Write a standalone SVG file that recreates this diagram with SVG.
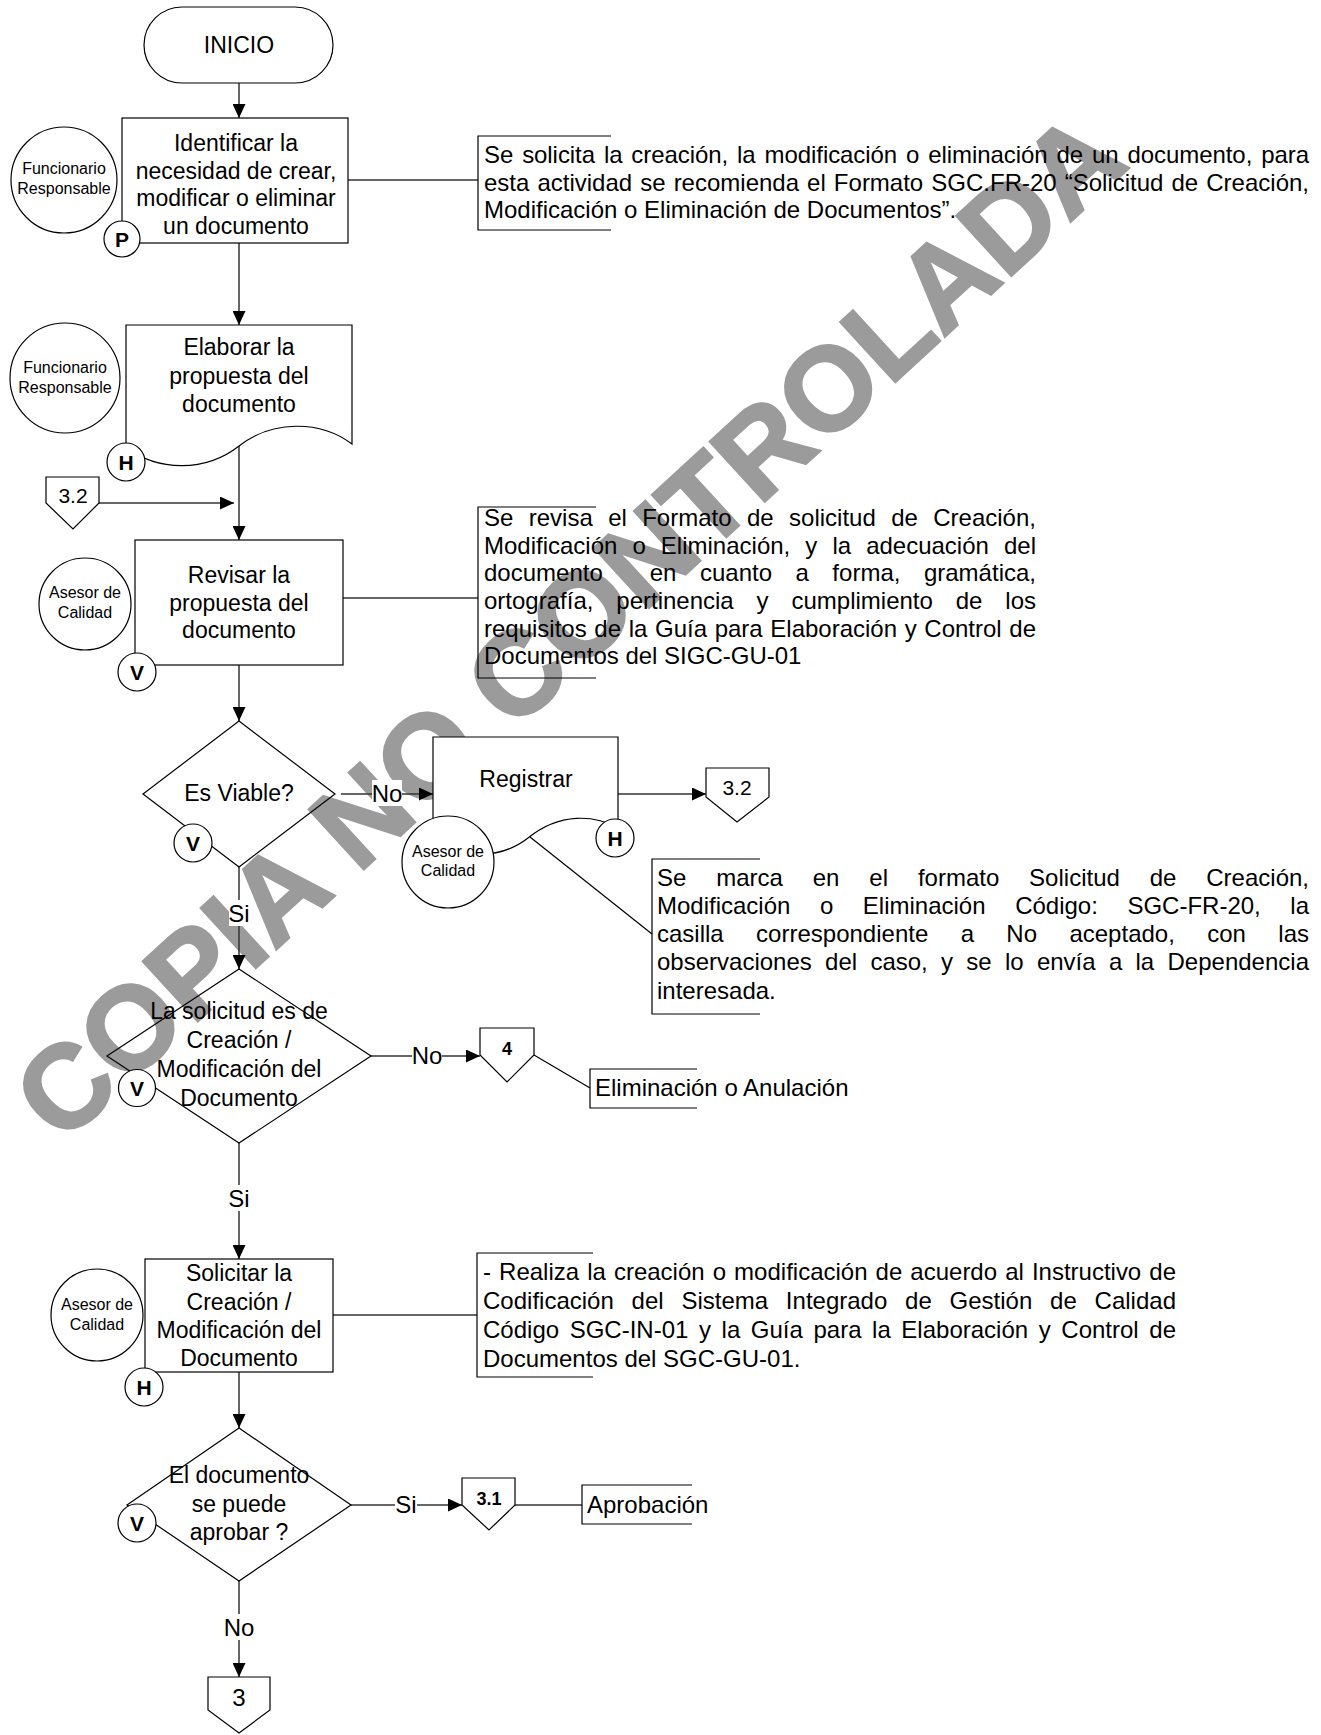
<svg xmlns="http://www.w3.org/2000/svg" width="1321" height="1735" viewBox="0 0 1321 1735">
<defs>
<marker id="ah" markerWidth="14" markerHeight="13" refX="14" refY="6.5" orient="auto" markerUnits="userSpaceOnUse"><path d="M0,0 L14,6.5 L0,13 z" fill="#000"/></marker>
<style>
.s{fill:#fff;stroke:#000;stroke-width:1.2}
.d{fill:none;stroke:#000;stroke-width:1.2}
.c{fill:none;stroke:#333;stroke-width:1.5}
.br{fill:none;stroke:#000;stroke-width:1.2}
text{font-family:"Liberation Sans",Arial,sans-serif;fill:#000}
.t{font-size:23px;text-anchor:middle}
.n{font-size:24px}
.sm{font-size:16px;text-anchor:middle}
.b{font-size:21px;font-weight:bold;text-anchor:middle}
.bs{font-size:18px;font-weight:bold;text-anchor:middle}
.lb{fill:#fff;stroke:none}
.wm{font-size:118px;font-weight:bold;fill:#9b9b9b;stroke:#9b9b9b;stroke-width:2.5;text-anchor:middle}
</style>
</defs>
<rect width="1321" height="1735" fill="#fff"/>
<text class="wm" x="0" y="42" transform="translate(568,625) rotate(-42.5)">COPIA NO CONTROLADA</text>

<g id="connectors">
<line class="c" x1="239" y1="83" x2="239" y2="118" marker-end="url(#ah)"/>
<line class="c" x1="348" y1="180" x2="478" y2="180"/>
<line class="c" x1="239" y1="243" x2="239" y2="325" marker-end="url(#ah)"/>
<line class="c" x1="99" y1="503" x2="234" y2="503" marker-end="url(#ah)"/>
<line class="c" x1="239" y1="446" x2="239" y2="540" marker-end="url(#ah)"/>
<line class="c" x1="343" y1="598" x2="478" y2="598"/>
<line class="c" x1="239" y1="665" x2="239" y2="721" marker-end="url(#ah)"/>
<line class="c" x1="341" y1="794" x2="433" y2="794" marker-end="url(#ah)"/>
<line class="c" x1="618" y1="794" x2="706" y2="794" marker-end="url(#ah)"/>
<line class="d" x1="530" y1="837" x2="652" y2="934"/>
<line class="c" x1="239" y1="867" x2="239" y2="969" marker-end="url(#ah)"/>
<line class="c" x1="371" y1="1056" x2="480" y2="1056" marker-end="url(#ah)"/>
<line class="d" x1="534" y1="1055" x2="590" y2="1088"/>
<line class="c" x1="239" y1="1143" x2="239" y2="1259" marker-end="url(#ah)"/>
<line class="c" x1="333" y1="1315" x2="477" y2="1315"/>
<line class="c" x1="239" y1="1372" x2="239" y2="1428" marker-end="url(#ah)"/>
<line class="c" x1="351" y1="1505" x2="462" y2="1505" marker-end="url(#ah)"/>
<line class="c" x1="515" y1="1505" x2="582" y2="1505"/>
<line class="c" x1="239" y1="1581" x2="239" y2="1677" marker-end="url(#ah)"/>
<rect class="lb" x="372" y="780" width="30" height="26"/>
<text class="n" x="387" y="802" text-anchor="middle">No</text>
<rect class="lb" x="229" y="900" width="21" height="26"/>
<text class="n" x="239" y="922" text-anchor="middle">Si</text>
<rect class="lb" x="412" y="1042" width="30" height="26"/>
<text class="n" x="427" y="1064" text-anchor="middle">No</text>
<rect class="lb" x="229" y="1185" width="21" height="26"/>
<text class="n" x="239" y="1207" text-anchor="middle">Si</text>
<rect class="lb" x="395" y="1491" width="22" height="26"/>
<text class="n" x="406" y="1513" text-anchor="middle">Si</text>
<rect class="lb" x="224" y="1614" width="31" height="26"/>
<text class="n" x="239" y="1636" text-anchor="middle">No</text>
</g>

<g id="inicio">
<rect class="s" x="144" y="7" width="189" height="76" rx="38"/>
<text class="t" x="239" y="53">INICIO</text>
</g>

<g id="identificar">
<rect class="s" x="122" y="118" width="226" height="125"/>
<text class="t" x="236" y="151">Identificar la</text>
<text class="t" x="236" y="178.5">necesidad de crear,</text>
<text class="t" x="236" y="206">modificar o eliminar</text>
<text class="t" x="236" y="233.5">un documento</text>
</g>
<g id="resp1">
<circle class="s" cx="64" cy="180" r="53"/>
<text class="sm" x="64" y="174">Funcionario</text>
<text class="sm" x="64" y="194">Responsable</text>
</g>
<g id="p1">
<circle class="s" cx="122" cy="239" r="18"/>
<text class="b" x="122" y="246.5">P</text>
</g>
<g id="nota1">
<path class="br" d="M611,136 H478 V230 H611"/>
<text class="n" x="484" y="163" style="word-spacing:2.3px" textLength="825" lengthAdjust="spacing">Se solicita la creación, la modificación o eliminación de un documento, para</text>
<text class="n" x="484" y="191" style="word-spacing:1.4px" textLength="825" lengthAdjust="spacing">esta actividad se recomienda el Formato SGC.FR-20 “Solicitud de Creación,</text>
<text class="n" x="484" y="218">Modificación o Eliminación de Documentos”.</text>
</g>

<g id="elaborar">
<path class="s" d="M126,325 H352 V444 C320,420 272,420 239,446 C206,472 158,472 126,447 Z"/>
<text class="t" x="239" y="355">Elaborar la</text>
<text class="t" x="239" y="383.5">propuesta del</text>
<text class="t" x="239" y="412">documento</text>
</g>
<g id="resp2">
<circle class="s" cx="65" cy="378" r="55"/>
<text class="sm" x="65" y="373">Funcionario</text>
<text class="sm" x="65" y="393">Responsable</text>
</g>
<g id="h1">
<circle class="s" cx="126" cy="462" r="19"/>
<text class="b" x="126" y="469.5">H</text>
</g>
<g id="con32a">
<polygon class="s" points="46,477 99,477 99,503 73,529 46,503"/>
<text class="t" x="73" y="503" style="font-size:21px">3.2</text>
</g>

<g id="revisar">
<rect class="s" x="135" y="540" width="208" height="125"/>
<text class="t" x="239" y="583">Revisar la</text>
<text class="t" x="239" y="610.5">propuesta del</text>
<text class="t" x="239" y="638">documento</text>
</g>
<g id="asesor1">
<circle class="s" cx="85" cy="604" r="46"/>
<text class="sm" x="85" y="598">Asesor de</text>
<text class="sm" x="85" y="618">Calidad</text>
</g>
<g id="v1">
<circle class="s" cx="137" cy="672" r="19"/>
<text class="b" x="137" y="679.5">V</text>
</g>
<g id="nota2">
<path class="br" d="M596,507 H478 V678 H596"/>
<text class="n" x="484" y="526" style="word-spacing:8.7px" textLength="552" lengthAdjust="spacing">Se revisa el Formato de solicitud de Creación,</text>
<text class="n" x="484" y="554" style="word-spacing:8.4px" textLength="552" lengthAdjust="spacing">Modificación o Eliminación, y la adecuación del</text>
<text class="n" x="484" y="581" style="word-spacing:16.8px;white-space:pre" xml:space="preserve" textLength="552" lengthAdjust="spacing">documento  en cuanto a forma, gramática,</text>
<text class="n" x="484" y="609" style="word-spacing:16.2px" textLength="552" lengthAdjust="spacing">ortografía, pertinencia y cumplimiento de los</text>
<text class="n" x="484" y="637" style="word-spacing:1px" textLength="552" lengthAdjust="spacing">requisitos de la Guía para Elaboración y Control de</text>
<text class="n" x="484" y="664">Documentos del SIGC-GU-01</text>
</g>

<g id="viable">
<polygon class="d" points="239,721 335,794 239,867 143,794"/>
<text class="t" x="239" y="801">Es Viable?</text>
</g>
<g id="v2">
<circle class="s" cx="193" cy="843" r="19"/>
<text class="b" x="193" y="850.5">V</text>
</g>
<g id="registrar">
<path class="s" d="M433,737 H618 V828 C595,815 560,812 528,838 C500,860 460,858 433,845 Z"/>
<text class="t" x="526" y="787">Registrar</text>
</g>
<g id="asesor2">
<circle class="s" cx="448" cy="862" r="46"/>
<text class="sm" x="448" y="857">Asesor de</text>
<text class="sm" x="448" y="876">Calidad</text>
</g>
<g id="h2">
<circle class="s" cx="615" cy="838" r="19"/>
<text class="b" x="615" y="845.5">H</text>
</g>
<g id="con32b">
<polygon class="s" points="706,768 769,768 769,797 737,822 706,797"/>
<text class="t" x="737" y="795" style="font-size:21px">3.2</text>
</g>
<g id="nota3">
<path class="br" d="M760,859 H652 V1014 H760"/>
<text class="n" x="657" y="886" style="word-spacing:23.2px" textLength="652" lengthAdjust="spacing">Se marca en el formato Solicitud de Creación,</text>
<text class="n" x="657" y="914" style="word-spacing:22.9px" textLength="652" lengthAdjust="spacing">Modificación o Eliminación Código: SGC-FR-20, la</text>
<text class="n" x="657" y="942" style="word-spacing:25.7px" textLength="652" lengthAdjust="spacing">casilla correspondiente a No aceptado, con las</text>
<text class="n" x="657" y="970" style="word-spacing:6.6px" textLength="652" lengthAdjust="spacing">observaciones del caso, y se lo envía a la Dependencia</text>
<text class="n" x="657" y="999">interesada.</text>
</g>

<g id="solicitud">
<polygon class="d" points="239,969 371,1056 239,1143 107,1056"/>
<text class="t" x="239" y="1019">La solicitud es de</text>
<text class="t" x="239" y="1048">Creación /</text>
<text class="t" x="239" y="1077">Modificación del</text>
<text class="t" x="239" y="1106">Documento</text>
</g>
<g id="v3">
<circle class="s" cx="137" cy="1088" r="18.5"/>
<text class="b" x="137" y="1095.5">V</text>
</g>
<g id="con4">
<polygon class="s" points="480,1028 534,1028 534,1055 507,1082 480,1055"/>
<text class="bs" x="507" y="1055">4</text>
</g>
<g id="eliminacion">
<path class="br" d="M697,1069 H590 V1108 H697"/>
<text class="n" x="595" y="1096">Eliminación o Anulación</text>
</g>

<g id="solicitar">
<rect class="s" x="145" y="1259" width="188" height="113"/>
<text class="t" x="239" y="1281">Solicitar la</text>
<text class="t" x="239" y="1309.5">Creación /</text>
<text class="t" x="239" y="1337.5">Modificación del</text>
<text class="t" x="239" y="1366">Documento</text>
</g>
<g id="asesor3">
<circle class="s" cx="97" cy="1315" r="46"/>
<text class="sm" x="97" y="1310">Asesor de</text>
<text class="sm" x="97" y="1330">Calidad</text>
</g>
<g id="h3">
<circle class="s" cx="144" cy="1387" r="19"/>
<text class="b" x="144" y="1394.5">H</text>
</g>
<g id="nota4">
<path class="br" d="M593,1253 H477 V1377 H593"/>
<text class="n" x="483" y="1280" style="word-spacing:1.4px" textLength="693" lengthAdjust="spacing">- Realiza la creación o modificación de acuerdo al Instructivo de</text>
<text class="n" x="483" y="1309" style="word-spacing:11.1px" textLength="693" lengthAdjust="spacing">Codificación del Sistema Integrado de Gestión de Calidad</text>
<text class="n" x="483" y="1338" style="word-spacing:3.9px" textLength="693" lengthAdjust="spacing">Código SGC-IN-01 y la Guía para la Elaboración y Control de</text>
<text class="n" x="483" y="1367">Documentos del SGC-GU-01.</text>
</g>

<g id="aprobar">
<polygon class="d" points="239,1428 351,1505 239,1581 127,1505"/>
<text class="t" x="239" y="1483">El documento</text>
<text class="t" x="239" y="1512">se puede</text>
<text class="t" x="239" y="1540">aprobar ?</text>
</g>
<g id="v4">
<circle class="s" cx="137" cy="1523" r="19"/>
<text class="b" x="137" y="1530.5">V</text>
</g>
<g id="con31">
<polygon class="s" points="462,1478 515,1478 515,1505 489,1530 462,1505"/>
<text class="bs" x="489" y="1505">3.1</text>
</g>
<g id="aprobacion">
<path class="br" d="M692,1485 H582 V1524 H692"/>
<text class="n" x="587" y="1513">Aprobación</text>
</g>
<g id="con3">
<polygon class="s" points="208,1677 270,1677 270,1710 239,1733 208,1710"/>
<text class="t" x="239" y="1706" style="font-size:24px">3</text>
</g>
</svg>
